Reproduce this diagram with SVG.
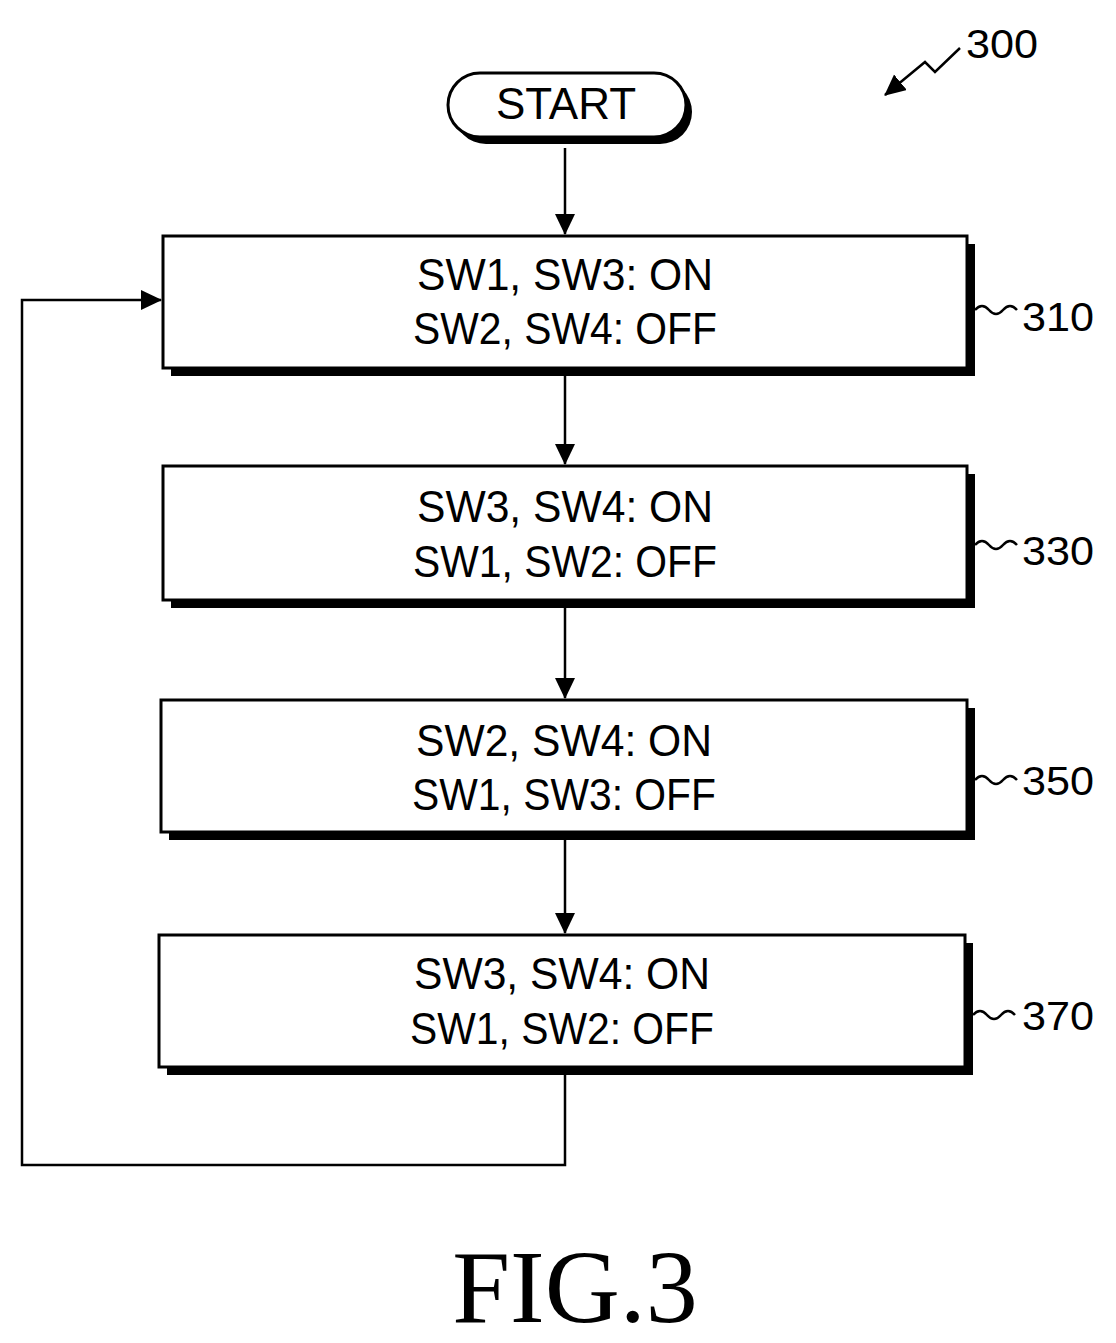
<svg xmlns="http://www.w3.org/2000/svg" width="1116" height="1343" viewBox="0 0 1116 1343">
<defs>
<style>
.box{fill:#fff;stroke:#000;stroke-width:3}
.sh{fill:#000}
.t{font-family:"Liberation Sans",Arial,sans-serif;font-size:44px;text-anchor:middle;fill:#000}
.lbl{font-family:"Liberation Sans",Arial,sans-serif;font-size:40px;fill:#000}
.ln{fill:none;stroke:#000;stroke-width:2.5}
</style>
<marker id="ah" markerWidth="22" markerHeight="22" refX="20" refY="10" orient="auto" markerUnits="userSpaceOnUse">
<path d="M0,0 L21,10 L0,20 Z" fill="#000"/>
</marker>
</defs>
<rect width="1116" height="1343" fill="#fff"/>
<g id="start">
<rect x="454" y="80" width="238" height="64" rx="32" class="sh"/>
<rect x="448" y="73" width="238" height="64" rx="32" class="box"/>
<text x="566" y="119" class="t">START</text>
</g>
<g id="n310">
<rect x="171" y="244" width="804" height="132" class="sh"/>
<rect x="163" y="236" width="804" height="132" class="box"/>
<text x="565" y="290" class="t" textLength="296" lengthAdjust="spacingAndGlyphs">SW1, SW3: ON</text>
<text x="565" y="344" class="t" textLength="304" lengthAdjust="spacingAndGlyphs">SW2, SW4: OFF</text>
<path d="M975,310 q7,-8 14,0 t14,0 t14,0" class="ln"/>
<text x="1022" y="331" class="lbl" textLength="72" lengthAdjust="spacingAndGlyphs">310</text>
</g>
<g id="n330">
<rect x="171" y="474" width="804" height="134" class="sh"/>
<rect x="163" y="466" width="804" height="134" class="box"/>
<text x="565" y="522" class="t" textLength="296" lengthAdjust="spacingAndGlyphs">SW3, SW4: ON</text>
<text x="565" y="577" class="t" textLength="304" lengthAdjust="spacingAndGlyphs">SW1, SW2: OFF</text>
<path d="M975,545 q7,-8 14,0 t14,0 t14,0" class="ln"/>
<text x="1022" y="565" class="lbl" textLength="72" lengthAdjust="spacingAndGlyphs">330</text>
</g>
<g id="n350">
<rect x="169" y="708" width="806" height="132" class="sh"/>
<rect x="161" y="700" width="806" height="132" class="box"/>
<text x="564" y="756" class="t" textLength="296" lengthAdjust="spacingAndGlyphs">SW2, SW4: ON</text>
<text x="564" y="810" class="t" textLength="304" lengthAdjust="spacingAndGlyphs">SW1, SW3: OFF</text>
<path d="M975,780 q7,-8 14,0 t14,0 t14,0" class="ln"/>
<text x="1022" y="795" class="lbl" textLength="72" lengthAdjust="spacingAndGlyphs">350</text>
</g>
<g id="n370">
<rect x="167" y="943" width="806" height="132" class="sh"/>
<rect x="159" y="935" width="806" height="132" class="box"/>
<text x="562" y="989" class="t" textLength="296" lengthAdjust="spacingAndGlyphs">SW3, SW4: ON</text>
<text x="562" y="1044" class="t" textLength="304" lengthAdjust="spacingAndGlyphs">SW1, SW2: OFF</text>
<path d="M973,1015 q7,-8 14,0 t14,0 t14,0" class="ln"/>
<text x="1022" y="1030" class="lbl" textLength="72" lengthAdjust="spacingAndGlyphs">370</text>
</g>
<g id="ref300">
<text x="966" y="58" class="lbl" textLength="72" lengthAdjust="spacingAndGlyphs">300</text>
<path d="M960,48 L935,72 L925,62 L885,95" class="ln" marker-end="url(#ah)"/>
</g>
<g id="connectors">
<line x1="565" y1="148" x2="565" y2="234" class="ln" marker-end="url(#ah)"/>
<line x1="565" y1="376" x2="565" y2="464" class="ln" marker-end="url(#ah)"/>
<line x1="565" y1="608" x2="565" y2="698" class="ln" marker-end="url(#ah)"/>
<line x1="565" y1="840" x2="565" y2="933" class="ln" marker-end="url(#ah)"/>
<polyline points="565,1075 565,1165 22,1165 22,300 161,300" class="ln" marker-end="url(#ah)"/>
</g>
<text x="575" y="1322" font-family="Liberation Serif,serif" font-size="104" text-anchor="middle">FIG.3</text>
</svg>
